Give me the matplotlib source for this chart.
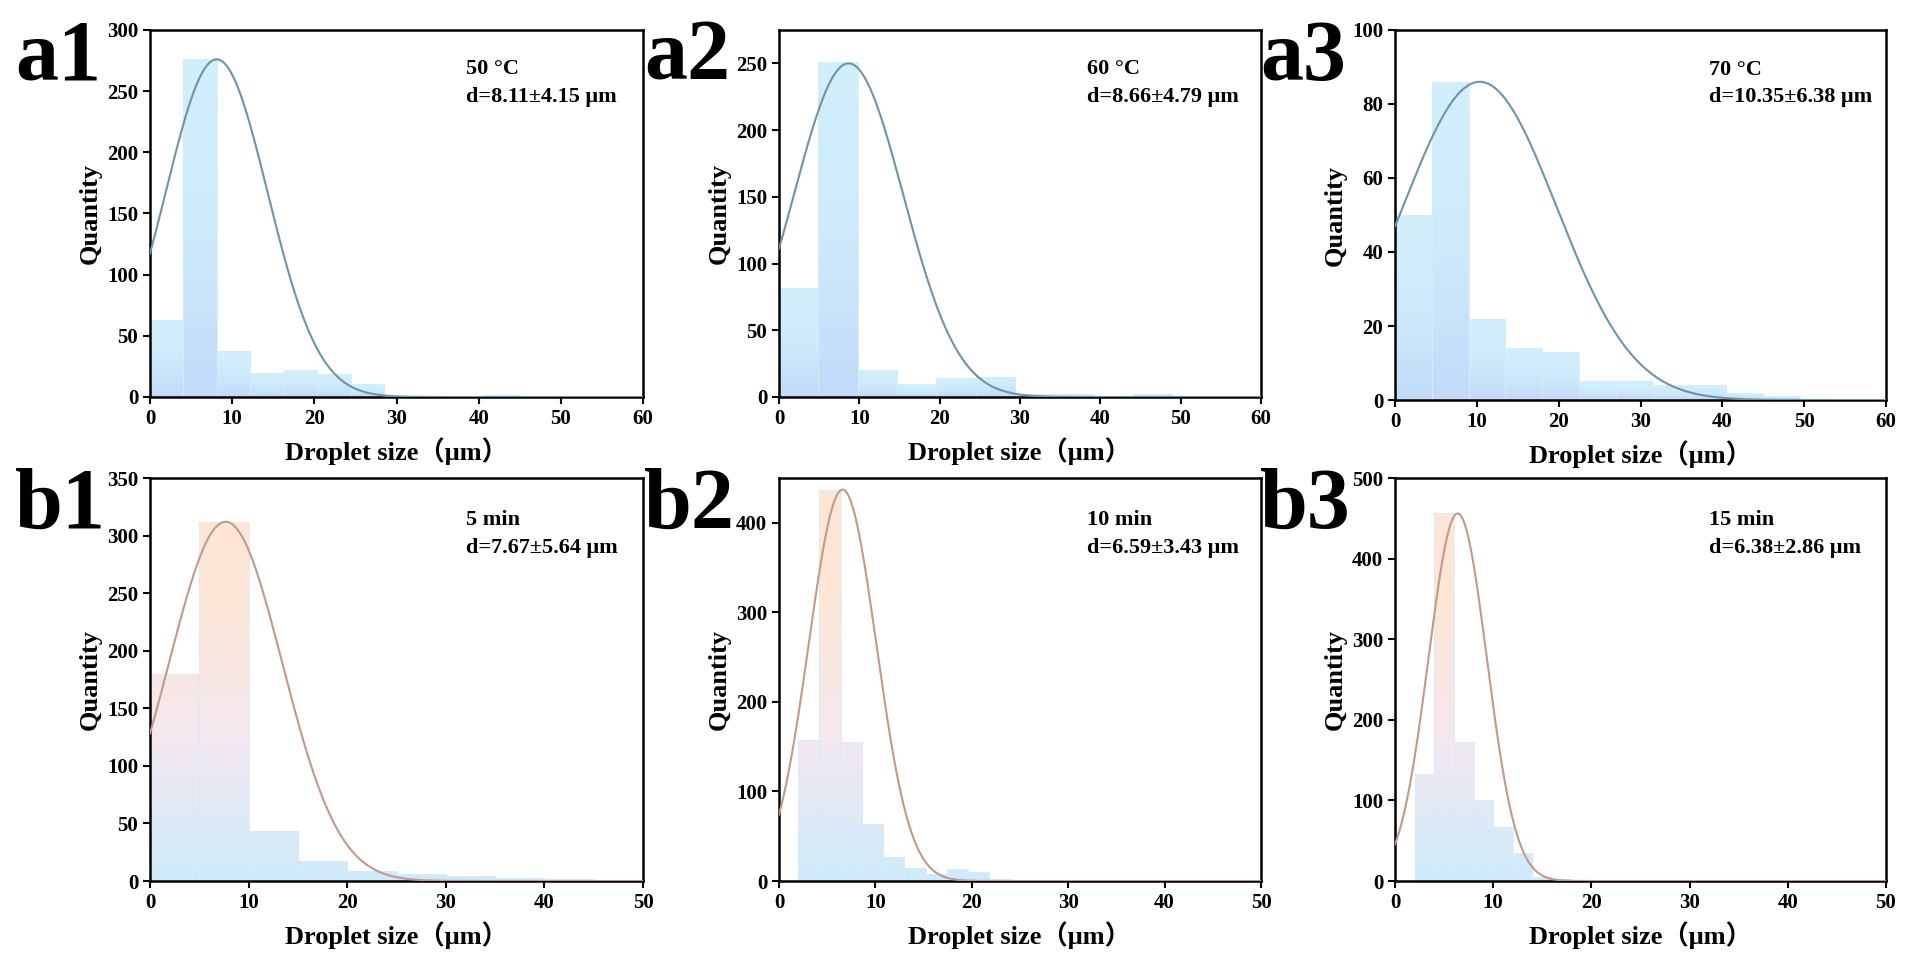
import numpy as np
import matplotlib
matplotlib.use("Agg")
import matplotlib.pyplot as plt
from matplotlib.colors import LinearSegmentedColormap

plt.rcParams['font.family'] = ['Liberation Serif', 'DejaVu Serif']
plt.rcParams['font.weight'] = 'bold'

# histogram data: bin start, bin width, counts
a1_start, a1_width = 0, 4.07
a1_counts = [63, 276, 38, 20, 22, 19, 11, 1, 1, 1, 2, 1]
a2_start, a2_width = 0, 4.9
a2_counts = [82, 251, 20, 10, 14, 15, 2, 2, 1, 2, 1]
a3_start, a3_width = 0, 4.5
a3_counts = [50, 86, 22, 14, 13, 5, 5, 4, 4, 2, 1]
b1_start, b1_width = 0, 5
b1_counts = [180, 312, 43, 17, 9, 6, 4, 3, 2, 1]
b2_start, b2_width = 2, 2.2
b2_counts = [157, 437, 155, 64, 27, 14, 8, 13, 10, 2, 1, 1, 1]
b3_start, b3_width = 2, 2.0
b3_counts = [133, 456, 173, 100, 67, 35, 5, 2]

# fitted curves as drawn: centre, width, peak
fits = {
    'a1': (8.11, 6.2, 276), 'a2': (8.66, 6.8, 250), 'a3': (10.35, 9.4, 86),
    'b1': (7.67, 5.75, 312), 'b2': (6.59, 3.5, 437), 'b3': (6.38, 2.97, 456),
}
notes = {
    'a1': '50 \u00b0C\nd=8.11\u00b14.15 \u03bcm', 'a2': '60 \u00b0C\nd=8.66\u00b14.79 \u03bcm',
    'a3': '70 \u00b0C\nd=10.35\u00b16.38 \u03bcm', 'b1': '5 min\nd=7.67\u00b15.64 \u03bcm',
    'b2': '10 min\nd=6.59\u00b13.43 \u03bcm', 'b3': '15 min\nd=6.38\u00b12.86 \u03bcm',
}
hists = {
    'a1': (a1_start, a1_width, a1_counts), 'a2': (a2_start, a2_width, a2_counts),
    'a3': (a3_start, a3_width, a3_counts), 'b1': (b1_start, b1_width, b1_counts),
    'b2': (b2_start, b2_width, b2_counts), 'b3': (b3_start, b3_width, b3_counts),
}
ylims = {'a1': (300, 50), 'a2': (275, 50), 'a3': (100, 20),
         'b1': (350, 50), 'b2': (450, 100), 'b3': (500, 100)}
xlims = {'a1': 60, 'a2': 60, 'a3': 60, 'b1': 50, 'b2': 50, 'b3': 50}

W, H = 1920, 955
boxes = {
    'a1': (150, 643, 30, 397), 'a2': (779, 1261, 30, 397), 'a3': (1395, 1886, 30, 400),
    'b1': (150, 643, 478, 881), 'b2': (779, 1261, 478, 881), 'b3': (1395, 1886, 478, 881),
}

cmap_b = LinearSegmentedColormap.from_list('b', ['#c9e9fb', '#f3e6ee', '#fde4d2'])
cmap_a = LinearSegmentedColormap.from_list('a', ['#bcd6f9', '#c9e9fb', '#cdeefc'])

fig = plt.figure(figsize=(19.2, 9.55), dpi=100)
for key, (l, r, t, b) in boxes.items():
    ax = fig.add_axes([l / W, 1 - b / H, (r - l) / W, (b - t) / H])
    start, width, counts = hists[key]
    edges = start + width * np.arange(len(counts))
    ymax, ystep = ylims[key]
    bars = ax.bar(edges, counts, width=width, align='edge',
                  color='none', edgecolor='#d6ecfa', linewidth=0.6, zorder=2)
    is_a = key.startswith('a')
    cmap = cmap_a if is_a else cmap_b
    grad = np.linspace(0, 1, 256).reshape(-1, 1)
    for bar in bars:
        x0, h = bar.get_x(), bar.get_height()
        top = max(h, 1e-6) if is_a else ymax * 0.7
        im = ax.imshow(grad, cmap=cmap, origin='lower', aspect='auto',
                       extent=(x0, x0 + width, 0, top), zorder=1, alpha=0.9)
        im.set_clip_path(bar)
        if not is_a and h > top:
            ax.bar(x0, h - top, bottom=top, width=width, align='edge',
                   color='#fde4d2', alpha=0.9, linewidth=0, zorder=1)
    mu, sd, pk = fits[key]
    xs = np.linspace(0, xlims[key], 600)
    ys = pk * np.exp(-0.5 * ((xs - mu) / sd) ** 2)
    ax.plot(xs, ys, color='#6f93a8' if is_a else '#c4988a', lw=1.5, zorder=3)
    ax.set_xlim(0, xlims[key])
    ax.set_ylim(0, ymax)
    ax.set_yticks(np.arange(0, ymax + 1, ystep))
    ax.set_xticks(np.arange(0, xlims[key] + 1, 10))
    ax.tick_params(direction='out', width=1.5, length=5, labelsize=15)
    for s in ax.spines.values():
        s.set_linewidth(1.8)
    ax.set_xlabel('Droplet size\uff08\u03bcm\uff09', fontsize=19, fontweight='bold',
                  family=['Liberation Serif', 'Noto Sans CJK SC'], labelpad=6)
    ax.set_ylabel('Quantity', fontsize=19, fontweight='bold')
    ax.text(0.64, 0.92, notes[key], transform=ax.transAxes, fontsize=16,
            fontweight='bold', va='top', linespacing=1.5)
    fig.text((l - 135) / W, 1 - (t + 50) / H, key, fontsize=62, fontweight='bold')

fig.savefig('out.png', dpi=100)
